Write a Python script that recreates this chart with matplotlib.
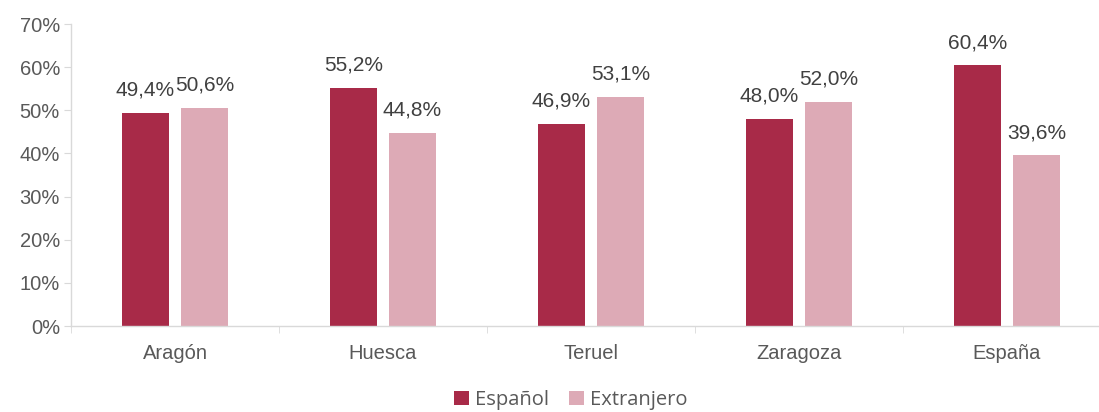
import numpy as np
import matplotlib.pyplot as plt
from matplotlib.ticker import FixedLocator, PercentFormatter

categories = ["Aragón", "Huesca", "Teruel", "Zaragoza", "España"]
espanol = [49.4, 55.2, 46.9, 48.0, 60.4]
extranjero = [50.6, 44.8, 53.1, 52.0, 39.6]
series_names = ["Español", "Extranjero"]

dark = "#A82A48"
light = "#DDAAB6"
text_col = "#595959"

fig = plt.figure(figsize=(10.99, 4.12), dpi=100)
ax = fig.add_axes([71 / 1099, 86 / 412, 1028 / 1099, 302 / 412])

x = np.arange(len(categories))
w = 0.226
off = 0.142
b1 = ax.bar(x - off, espanol, w, color=dark, label=series_names[0])
b2 = ax.bar(x + off, extranjero, w, color=light, label=series_names[1])

for bars, vals in [(b1, espanol), (b2, extranjero)]:
    for b, v in zip(bars, vals):
        ax.text(b.get_x() + b.get_width() / 2, v + 3.0, f"{v:.1f}%".replace(".", ","),
                ha="center", va="bottom", fontsize=15, color="#404040",
                family="Liberation Sans")

ax.set_xlim(-0.5, -0.5 + 1028 / 208)
ax.set_ylim(0, 70)
ax.set_yticks(np.arange(0, 71, 10))
ax.yaxis.set_major_formatter(PercentFormatter(decimals=0))
ax.set_xticks(x)
ax.set_xticklabels(categories)
ax.xaxis.set_minor_locator(FixedLocator(np.arange(-0.5, 5, 1)))

for s in ["top", "right"]:
    ax.spines[s].set_visible(False)
for s in ["left", "bottom"]:
    ax.spines[s].set_color("#D9D9D9")
    ax.spines[s].set_linewidth(1.0)

ax.tick_params(axis="y", length=5, color="#D9D9D9", labelsize=14.5, labelcolor=text_col, pad=3)
ax.tick_params(axis="x", which="major", length=0, labelsize=14.5, labelcolor=text_col, pad=13)
ax.tick_params(axis="x", which="minor", length=5, color="#D9D9D9")
for lab in ax.get_xticklabels() + ax.get_yticklabels():
    lab.set_family("Liberation Sans")

leg = fig.legend(handles=[b1, b2], labels=series_names, loc="center",
                 bbox_to_anchor=(571 / 1099, 1 - 400 / 412), ncol=2, frameon=False,
                 handlelength=0.75, handleheight=0.75, handletextpad=0.3, columnspacing=1.0,
                 prop={"family": "Open Sans", "size": 14.5})
for t in leg.get_texts():
    t.set_color(text_col)

fig.savefig("out.png", dpi=100)
